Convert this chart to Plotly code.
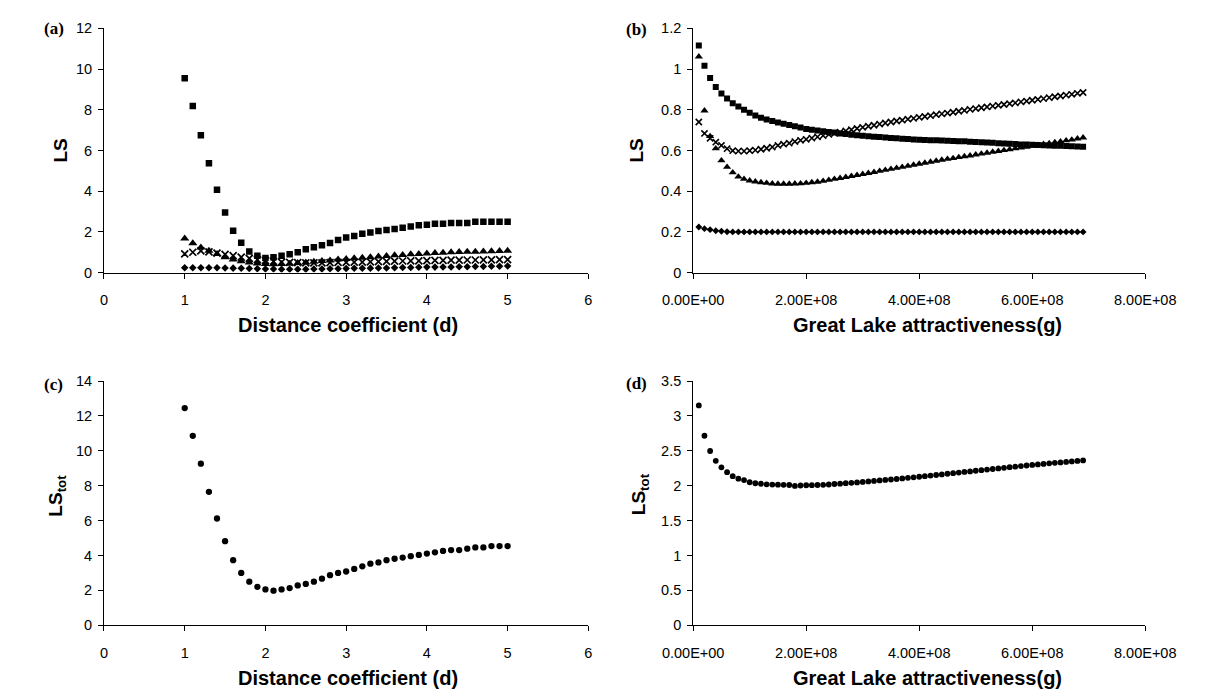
import plotly.graph_objects as go

# The page body has an 8px margin, so the figure is made 8px smaller than the
# window on each axis and every position below is given in window pixels.
OFF = 8
W, H = 1218 - OFF, 698 - OFF

# ---------------- data: panels (a) and (c) ----------------
d_coef = [1.0, 1.1, 1.2, 1.3, 1.4, 1.5, 1.6, 1.7, 1.8, 1.9,
          2.0, 2.1, 2.2, 2.3, 2.4, 2.5, 2.6, 2.7, 2.8, 2.9,
          3.0, 3.1, 3.2, 3.3, 3.4, 3.5, 3.6, 3.7, 3.8, 3.9,
          4.0, 4.1, 4.2, 4.3, 4.4, 4.5, 4.6, 4.7, 4.8, 4.9, 5.0]

a_diamond = [0.24, 0.24, 0.24, 0.24, 0.24, 0.23, 0.22, 0.21, 0.20, 0.19,
             0.18, 0.18, 0.17, 0.17, 0.17, 0.17, 0.18, 0.18, 0.19, 0.19,
             0.20, 0.21, 0.21, 0.22, 0.23, 0.23, 0.24, 0.25, 0.25, 0.26,
             0.27, 0.27, 0.28, 0.28, 0.29, 0.29, 0.30, 0.30, 0.31, 0.31, 0.32]
a_square = [9.55, 8.19, 6.75, 5.38, 4.07, 2.95, 2.06, 1.47, 1.04, 0.83,
            0.72, 0.75, 0.83, 0.90, 1.00, 1.15, 1.25, 1.35, 1.45, 1.60,
            1.72, 1.80, 1.91, 1.97, 2.04, 2.10, 2.14, 2.20, 2.27, 2.33,
            2.35, 2.40, 2.40, 2.44, 2.44, 2.44, 2.50, 2.50, 2.50, 2.50, 2.50]
a_triangle = [1.68, 1.44, 1.23, 1.07, 0.91, 0.75, 0.64, 0.56, 0.50, 0.45,
              0.42, 0.41, 0.42, 0.44, 0.47, 0.50, 0.53, 0.57, 0.60, 0.64,
              0.67, 0.70, 0.73, 0.76, 0.79, 0.82, 0.85, 0.87, 0.90, 0.92,
              0.94, 0.96, 0.98, 1.00, 1.01, 1.02, 1.03, 1.04, 1.05, 1.06, 1.07]
a_cross = [0.92, 1.00, 1.07, 1.02, 0.96, 0.90, 0.83, 0.76, 0.70, 0.64,
           0.59, 0.55, 0.52, 0.50, 0.49, 0.48, 0.48, 0.48, 0.49, 0.50,
           0.50, 0.51, 0.52, 0.53, 0.54, 0.55, 0.56, 0.57, 0.58, 0.58,
           0.59, 0.60, 0.60, 0.61, 0.61, 0.62, 0.62, 0.63, 0.63, 0.64, 0.64]
c_total = [12.45, 10.86, 9.26, 7.65, 6.12, 4.82, 3.73, 3.00, 2.50, 2.20,
           2.05, 1.98, 2.05, 2.13, 2.28, 2.37, 2.50, 2.67, 2.87, 3.00,
           3.08, 3.23, 3.38, 3.53, 3.60, 3.73, 3.81, 3.88, 3.96, 4.03,
           4.11, 4.18, 4.26, 4.31, 4.31, 4.39, 4.46, 4.46, 4.54, 4.54, 4.54]

# ---------------- data: panels (b) and (d) ----------------
g_attr = [1e7, 2e7, 3e7, 4e7, 5e7, 6e7, 7e7, 8e7, 9e7, 1.0e8,
          1.1e8, 1.2e8, 1.3e8, 1.4e8, 1.5e8, 1.6e8, 1.7e8, 1.8e8, 1.9e8, 2.0e8,
          2.1e8, 2.2e8, 2.3e8, 2.4e8, 2.5e8, 2.6e8, 2.7e8, 2.8e8, 2.9e8, 3.0e8,
          3.1e8, 3.2e8, 3.3e8, 3.4e8, 3.5e8, 3.6e8, 3.7e8, 3.8e8, 3.9e8, 4.0e8,
          4.1e8, 4.2e8, 4.3e8, 4.4e8, 4.5e8, 4.6e8, 4.7e8, 4.8e8, 4.9e8, 5.0e8,
          5.1e8, 5.2e8, 5.3e8, 5.4e8, 5.5e8, 5.6e8, 5.7e8, 5.8e8, 5.9e8, 6.0e8,
          6.1e8, 6.2e8, 6.3e8, 6.4e8, 6.5e8, 6.6e8, 6.7e8, 6.8e8, 6.9e8]

b_diamond = [0.224, 0.216, 0.211, 0.206, 0.203, 0.201, 0.200, 0.200, 0.200, 0.200,
             0.200, 0.200, 0.200, 0.200, 0.200, 0.200, 0.200, 0.200, 0.200, 0.200,
             0.200, 0.200, 0.200, 0.200, 0.200, 0.200, 0.200, 0.200, 0.200, 0.200,
             0.200, 0.200, 0.200, 0.200, 0.200, 0.200, 0.200, 0.200, 0.200, 0.200,
             0.200, 0.200, 0.200, 0.200, 0.200, 0.200, 0.200, 0.200, 0.200, 0.200,
             0.200, 0.200, 0.200, 0.200, 0.200, 0.200, 0.200, 0.200, 0.200, 0.200,
             0.200, 0.200, 0.200, 0.200, 0.200, 0.200, 0.200, 0.200, 0.200]
b_square = [1.116, 1.016, 0.956, 0.912, 0.880, 0.856, 0.832, 0.816, 0.800, 0.785,
            0.772, 0.761, 0.753, 0.745, 0.738, 0.731, 0.725, 0.719, 0.713, 0.706,
            0.702, 0.698, 0.695, 0.691, 0.688, 0.684, 0.681, 0.678, 0.675, 0.672,
            0.670, 0.668, 0.666, 0.664, 0.662, 0.660, 0.658, 0.656, 0.654, 0.653,
            0.652, 0.651, 0.650, 0.649, 0.648, 0.647, 0.646, 0.645, 0.643, 0.642,
            0.641, 0.639, 0.638, 0.636, 0.635, 0.633, 0.632, 0.630, 0.629, 0.628,
            0.627, 0.626, 0.625, 0.624, 0.623, 0.622, 0.621, 0.620, 0.619]
b_triangle = [1.061, 0.796, 0.670, 0.610, 0.551, 0.519, 0.492, 0.471, 0.460, 0.452,
              0.447, 0.443, 0.440, 0.437, 0.436, 0.436, 0.436, 0.437, 0.438, 0.440,
              0.443, 0.446, 0.450, 0.455, 0.460, 0.464, 0.469, 0.474, 0.479, 0.484,
              0.489, 0.494, 0.499, 0.504, 0.509, 0.514, 0.519, 0.524, 0.529, 0.534,
              0.539, 0.544, 0.549, 0.554, 0.558, 0.562, 0.567, 0.571, 0.575, 0.580,
              0.584, 0.588, 0.593, 0.597, 0.601, 0.605, 0.610, 0.614, 0.618, 0.622,
              0.627, 0.631, 0.635, 0.640, 0.644, 0.649, 0.653, 0.658, 0.663]
b_cross = [0.740, 0.684, 0.660, 0.641, 0.625, 0.609, 0.599, 0.597, 0.597, 0.599,
           0.602, 0.606, 0.611, 0.617, 0.625, 0.631, 0.636, 0.644, 0.650, 0.655,
           0.661, 0.667, 0.673, 0.679, 0.684, 0.690, 0.696, 0.702, 0.708, 0.714,
           0.719, 0.724, 0.730, 0.735, 0.740, 0.745, 0.749, 0.754, 0.758, 0.763,
           0.767, 0.771, 0.776, 0.780, 0.784, 0.788, 0.793, 0.797, 0.802, 0.806,
           0.810, 0.814, 0.818, 0.822, 0.826, 0.830, 0.834, 0.839, 0.843, 0.847,
           0.851, 0.855, 0.860, 0.864, 0.868, 0.872, 0.876, 0.881, 0.885]
d_total = [3.150, 2.716, 2.497, 2.357, 2.263, 2.193, 2.137, 2.100, 2.081, 2.049,
           2.035, 2.028, 2.020, 2.016, 2.014, 2.013, 2.010, 1.996, 2.003, 2.006,
           2.008, 2.010, 2.012, 2.017, 2.024, 2.029, 2.036, 2.041, 2.047, 2.054,
           2.061, 2.068, 2.075, 2.082, 2.089, 2.096, 2.104, 2.112, 2.120, 2.128,
           2.136, 2.145, 2.153, 2.162, 2.171, 2.179, 2.188, 2.197, 2.205, 2.214,
           2.222, 2.231, 2.239, 2.248, 2.256, 2.265, 2.273, 2.281, 2.289, 2.297,
           2.305, 2.312, 2.320, 2.327, 2.334, 2.341, 2.348, 2.355, 2.362]

# ---------------- tick labels ----------------
d_tickvals = [0, 1, 2, 3, 4, 5, 6]
g_tickvals = [0, 2e8, 4e8, 6e8, 8e8]
g_ticktext = ["0.00E+00", "2.00E+08", "4.00E+08", "6.00E+08", "8.00E+08"]
a_ytickvals = [0, 2, 4, 6, 8, 10, 12]
b_ytickvals = [0, 0.2, 0.4, 0.6, 0.8, 1.0, 1.2]
b_yticktext = ["0", "0.2", "0.4", "0.6", "0.8", "1", "1.2"]
c_ytickvals = [0, 2, 4, 6, 8, 10, 12, 14]
d_ytickvals = [0, 0.5, 1.0, 1.5, 2.0, 2.5, 3.0, 3.5]
d_yticktext = ["0", "0.5", "1", "1.5", "2", "2.5", "3", "3.5"]

x_title_d = "Distance coefficient (d)"
x_title_g = "Great Lake attractiveness(g)"


def px(x):
    return (x - OFF) / W


def py(y):
    return 1 - (y - OFF) / H


BLACK = "black"
fig = go.Figure()


def add_series(x, y, xa, ya, symbol, size, line=0):
    fig.add_trace(go.Scatter(
        x=x, y=y, xaxis=xa, yaxis=ya, mode="markers", showlegend=False,
        marker=dict(symbol=symbol, size=size, color=BLACK,
                    line=dict(width=line, color=BLACK)),
        hoverinfo="x+y"))


# panel (a)
add_series(d_coef, a_diamond, "x", "y", "diamond", 5.8)
add_series(d_coef, a_square, "x", "y", "square", 6.5)
add_series(d_coef, a_triangle, "x", "y", "triangle-up", 8)
add_series(d_coef, a_cross, "x", "y", "x-thin", 7, 1.7)
# panel (b)
add_series(g_attr, b_diamond, "x2", "y2", "diamond", 5.3)
add_series(g_attr, b_square, "x2", "y2", "square", 6)
add_series(g_attr, b_triangle, "x2", "y2", "triangle-up", 7.2)
add_series(g_attr, b_cross, "x2", "y2", "x-thin", 6.2, 1.6)
# panel (c)
add_series(d_coef, c_total, "x3", "y3", "circle", 6.3)
# panel (d)
add_series(g_attr, d_total, "x4", "y4", "circle", 5.8)

TICKFONT = dict(family="Arial, Liberation Sans, sans-serif", size=14.5, color=BLACK)


def xaxis(domain, rng, tickvals, ticktext, anchor):
    return dict(domain=domain, range=rng, anchor=anchor, tickmode="array",
                tickvals=tickvals, ticktext=ticktext, showline=True,
                linecolor=BLACK, linewidth=1, ticks="outside", ticklen=5,
                tickwidth=1, tickcolor=BLACK, showgrid=False, zeroline=False,
                tickfont=TICKFONT, ticklabelstandoff=9, fixedrange=True)


def yaxis(domain, rng, tickvals, ticktext, anchor):
    return dict(domain=domain, range=rng, anchor=anchor, tickmode="array",
                tickvals=tickvals, ticktext=ticktext, showline=True,
                linecolor=BLACK, linewidth=1, ticks="outside", ticklen=5,
                tickwidth=1, tickcolor=BLACK, showgrid=False, zeroline=False,
                tickfont=TICKFONT, ticklabelstandoff=3, fixedrange=True)


AX_L = [px(76.5), px(587)]
AX_R = [px(697.5), px(1174)]
AY_T = [py(270.7), py(20.7)]
AY_B = [py(631.7), py(381.7)]

fig.update_layout(
    width=W, height=H, margin=dict(l=0, r=0, t=0, b=0),
    paper_bgcolor="white", plot_bgcolor="white", showlegend=False,
    xaxis=xaxis(AX_L, [0, 6], d_tickvals, [str(v) for v in d_tickvals], "y"),
    yaxis=yaxis(AY_T, [0, 12], a_ytickvals, [str(v) for v in a_ytickvals], "x"),
    xaxis2=xaxis(AX_R, [0, 8e8], g_tickvals, g_ticktext, "y2"),
    yaxis2=yaxis(AY_T, [0, 1.2], b_ytickvals, b_yticktext, "x2"),
    xaxis3=xaxis(AX_L, [0, 6], d_tickvals, [str(v) for v in d_tickvals], "y3"),
    yaxis3=yaxis(AY_B, [0, 14], c_ytickvals, [str(v) for v in c_ytickvals], "x3"),
    xaxis4=xaxis(AX_R, [0, 8e8], g_tickvals, g_ticktext, "y4"),
    yaxis4=yaxis(AY_B, [0, 3.5], d_ytickvals, d_yticktext, "x4"),
)

TITLEFONT = dict(family="Arial, Liberation Sans, sans-serif", size=20, color=BLACK)
YTITLEFONT = dict(family="Arial, Liberation Sans, sans-serif", size=19, color=BLACK)
LABELFONT = dict(family="Liberation Serif, Times New Roman, serif", size=17, color=BLACK)

annotations = []


def ann(text, x, y, font, angle=0):
    annotations.append(dict(text=text, x=px(x), y=py(y), xref="paper", yref="paper",
                            xanchor="center", yanchor="middle", showarrow=False,
                            font=font, textangle=angle))


ann("<b>(a)</b>", 23.5, 21, LABELFONT)
ann("<b>(b)</b>", 638, 22, LABELFONT)
ann("<b>(c)</b>", 23.5, 385, LABELFONT)
ann("<b>(d)</b>", 638, 384, LABELFONT)
ann("<b>LS</b>", 31, 146, YTITLEFONT, -90)
ann("<b>LS</b>", 638, 146, YTITLEFONT, -90)
ann("<b>LS<sub>tot</sub></b>", 27, 499, YTITLEFONT, -90)
ann("<b>LS<sub>tot</sub></b>", 641, 498, YTITLEFONT, -90)
ann("<b>" + x_title_d + "</b>", 334, 324, TITLEFONT)
ann("<b>" + x_title_g + "</b>", 944, 324, TITLEFONT)
ann("<b>" + x_title_d + "</b>", 334, 686, TITLEFONT)
ann("<b>" + x_title_g + "</b>", 944, 686, TITLEFONT)

fig.update_layout(annotations=annotations)

fig.write_html("out.html")
